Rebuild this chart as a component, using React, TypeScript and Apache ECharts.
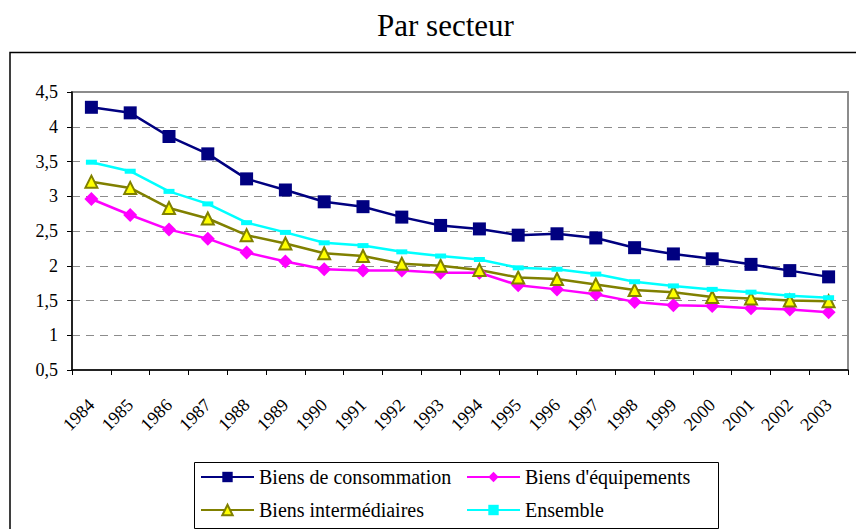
import React, { useEffect, useRef } from "react";
import * as echarts from "echarts";

const years = ["1984", "1985", "1986", "1987", "1988", "1989", "1990", "1991", "1992", "1993", "1994", "1995", "1996", "1997", "1998", "1999", "2000", "2001", "2002", "2003"];
const consommation = [4.28, 4.2, 3.86, 3.61, 3.25, 3.09, 2.92, 2.85, 2.7, 2.58, 2.53, 2.44, 2.46, 2.4, 2.26, 2.17, 2.1, 2.02, 1.93, 1.84];
const equipements = [2.96, 2.73, 2.52, 2.39, 2.19, 2.06, 1.95, 1.93, 1.93, 1.9, 1.9, 1.72, 1.66, 1.59, 1.48, 1.43, 1.42, 1.39, 1.37, 1.33];
const intermediaires = [3.21, 3.12, 2.83, 2.68, 2.44, 2.32, 2.18, 2.14, 2.03, 2.0, 1.94, 1.83, 1.81, 1.73, 1.65, 1.62, 1.55, 1.53, 1.5, 1.49];
const ensemble = [3.49, 3.36, 3.07, 2.89, 2.62, 2.48, 2.33, 2.29, 2.2, 2.14, 2.09, 1.97, 1.95, 1.88, 1.77, 1.71, 1.66, 1.62, 1.57, 1.54];

const seriesNames = ["Biens de consommation", "Biens d'équipements", "Biens intermédiaires", "Ensemble"];

const FONT = "'Liberation Serif', 'Times New Roman', serif";

export default function App() {
  const ref = useRef<HTMLDivElement>(null);
  useEffect(() => {
    if (!ref.current) return;
    const chart = echarts.init(ref.current, undefined, { renderer: "svg" });
    const legendBase = {
      orient: "horizontal",
      itemWidth: 53,
      itemHeight: 13,
      textStyle: { fontFamily: FONT, fontSize: 20, color: "#000" },
      padding: 0,
      selectedMode: false,
    };
    chart.setOption({
      animation: false,
      backgroundColor: "#fff",
      title: {
        text: "Par secteur",
        left: 372,
        top: 5,
        textStyle: { fontFamily: FONT, fontSize: 31, fontWeight: "normal", color: "#000" },
      },
      grid: {
        left: 72,
        right: 8,
        top: 92,
        bottom: 159,
        show: true,
        borderColor: "#8c8c8c",
        borderWidth: 2,
        backgroundColor: "transparent",
      },
      legend: [
        { ...legendBase, left: 200, top: 467, data: [seriesNames[0]] },
        { ...legendBase, left: 466, top: 467, data: [seriesNames[1]] },
        { ...legendBase, left: 200, top: 500, data: [seriesNames[2]] },
        { ...legendBase, left: 466, top: 500, data: [seriesNames[3]] },
      ],
      graphic: [
        {
          type: "rect",
          shape: { x: 10, y: 52.5, width: 900, height: 600 },
          style: { fill: "none", stroke: "#000", lineWidth: 1.5 },
          silent: true,
          z: -1,
        },
        {
          type: "rect",
          shape: { x: 194.5, y: 462.5, width: 524, height: 66 },
          style: { fill: "none", stroke: "#000", lineWidth: 1 },
          silent: true,
        },
      ],
      xAxis: {
        type: "category",
        data: years,
        boundaryGap: true,
        axisLine: { lineStyle: { color: "#000", width: 1.5 } },
        axisTick: { show: true, length: 5, lineStyle: { color: "#000" } },
        axisLabel: {
          rotate: 45,
          margin: 32,
          interval: 0,
          fontFamily: FONT,
          fontSize: 18,
          color: "#000",
        },
        splitLine: { show: false },
      },
      yAxis: {
        type: "value",
        min: 0.5,
        max: 4.5,
        interval: 0.5,
        axisLine: { show: true, lineStyle: { color: "#000", width: 1.5 } },
        axisTick: { show: true, length: 5, lineStyle: { color: "#000" } },
        axisLabel: {
          fontFamily: FONT,
          fontSize: 18,
          color: "#000",
          margin: 14,
          formatter: (v: number) => String(v).replace(".", ","),
        },
        splitLine: { show: true, lineStyle: { color: "#8c8c8c", type: [8, 6], width: 1 } },
      },
      series: [
        {
          name: seriesNames[0],
          type: "line",
          data: consommation,
          symbol: "rect",
          symbolSize: 13,
          lineStyle: { color: "#000080", width: 2.5 },
          itemStyle: { color: "#000080" },
        },
        {
          name: seriesNames[1],
          type: "line",
          data: equipements,
          symbol: "diamond",
          symbolSize: 14,
          lineStyle: { color: "#ff00ff", width: 2.5 },
          itemStyle: { color: "#ff00ff" },
        },
        {
          name: seriesNames[2],
          type: "line",
          data: intermediaires,
          symbol: "triangle",
          symbolSize: 12,
          lineStyle: { color: "#808000", width: 2.5 },
          itemStyle: { color: "#ffff00", borderColor: "#808000", borderWidth: 2 },
        },
        {
          name: seriesNames[3],
          type: "line",
          data: ensemble,
          symbol: "rect",
          symbolSize: [11, 5],
          lineStyle: { color: "#00ffff", width: 2.5 },
          itemStyle: { color: "#00ffff" },
        },
      ],
    });
    return () => chart.dispose();
  }, []);
  return (
    <div
      ref={ref}
      style={{ position: "fixed", left: 0, top: 0, width: 856, height: 529 }}
    />
  );
}
